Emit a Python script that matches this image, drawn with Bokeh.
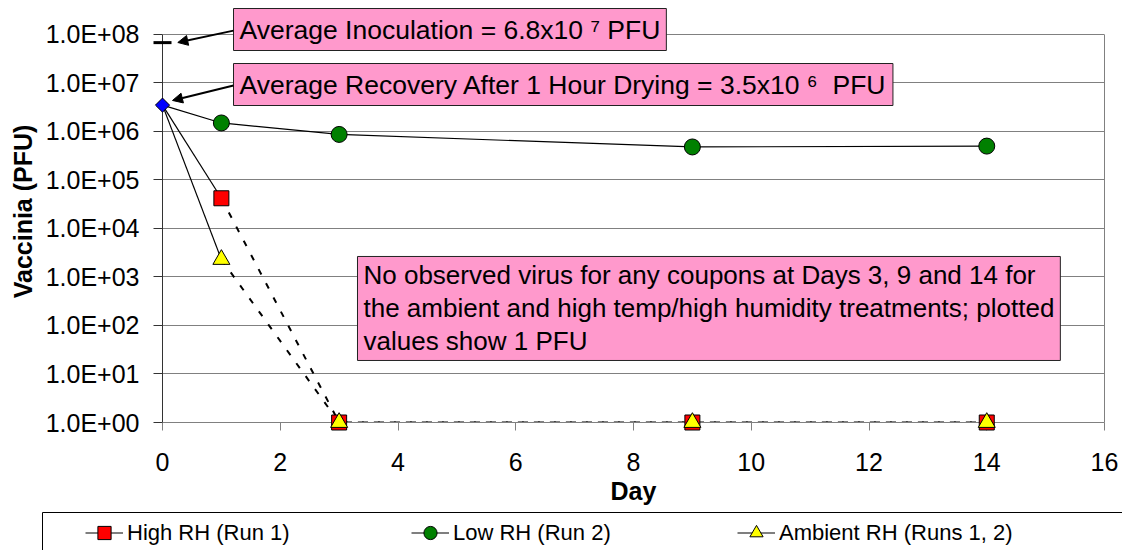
import math
from bokeh.plotting import figure
from bokeh.models import (Range1d, FixedTicker, Legend, LegendItem, Label,
                          Arrow, NormalHead, BoxAnnotation)
from bokeh.embed import file_html
from bokeh.resources import INLINE

# ---------------- data ----------------
days = [0, 1, 3, 9, 14]
high_rh = [3.5e6, 4.2e4, 1, 1, 1]
low_rh = [3.5e6, 1.5e6, 8.7e5, 4.8e5, 5.0e5]
ambient_rh = [3.5e6, 2.3e3, 1, 1, 1]
inoc_day = [0]
inoc_pfu = [6.8e7]
recov_day = [0]
recov_pfu = [3.5e6]

x_ticks = [0, 2, 4, 6, 8, 10, 12, 14, 16]
y_ticks = [10 ** k for k in range(0, 9)]
y_tick_labels = ["1.0E+00", "1.0E+01", "1.0E+02", "1.0E+03", "1.0E+04",
                 "1.0E+05", "1.0E+06", "1.0E+07", "1.0E+08"]
series_labels = ["High RH (Run 1)", "Low RH (Run 2)", "Ambient RH (Runs 1, 2)"]

NB = "\u00a0"
note_inoc = "Average Inoculation = 6.8x10" + NB + "\u2077" + NB + "PFU"
note_recov = "Average Recovery After 1 Hour Drying = 3.5x10" + NB + "\u2076" + NB + NB + "PFU"
note_none = ("No observed virus for any coupons at Days 3, 9 and 14 for\n"
             "the ambient and high temp/high humidity treatments; plotted\n"
             "values show 1 PFU")

FONT = "Liberation Sans"
PINK = "#FF99CC"
RED, GREEN, YELLOW, BLUE = "#FF0000", "#008000", "#FFFF00", "#0000FF"
GRID = "#808080"

# frame spans the whole top of the canvas so the upper note box is not clipped;
# the decade scale is the same as a 1 .. 1e8 axis whose top sits 34 px lower
p = figure(width=1122, height=510, y_axis_type="log",
           x_range=Range1d(0, 16), y_range=Range1d(1, 10 ** 8.701),
           output_backend="svg", toolbar_location=None,
           min_border_left=162, min_border_right=18,
           min_border_top=0, min_border_bottom=88)
p.title.visible = False
p.outline_line_color = None
p.background_fill_color = "white"
p.border_fill_color = "white"

# x axis
xa = p.xaxis[0]
xa.ticker = FixedTicker(ticks=x_ticks)
xa.axis_line_color = GRID
xa.major_tick_line_color = GRID
xa.major_tick_in = 0
xa.major_tick_out = 8
xa.minor_tick_line_color = None
xa.major_label_text_font = FONT
xa.major_label_text_font_size = "25px"
xa.major_label_text_color = "black"
xa.major_label_standoff = 22
xa.axis_label = "Day"
xa.axis_label_text_font = FONT
xa.axis_label_text_font_size = "25px"
xa.axis_label_text_font_style = "bold"
xa.axis_label_text_color = "black"
xa.axis_label_standoff = 3

# y axis
ya = p.yaxis[0]
ya.ticker = FixedTicker(ticks=y_ticks)
ya.major_label_overrides = dict(zip(y_ticks, y_tick_labels))
ya.axis_line_color = None
ya.major_tick_line_color = "#333333"
ya.major_tick_in = 0
ya.major_tick_out = 9
ya.minor_tick_line_color = None
ya.major_label_text_font = FONT
ya.major_label_text_font_size = "25px"
ya.major_label_text_color = "black"
ya.major_label_standoff = 14
ya.axis_label = "Vaccinia (PFU)"
ya.axis_label_text_font = FONT
ya.axis_label_text_font_size = "25px"
ya.axis_label_text_font_style = "bold"
ya.axis_label_text_color = "black"
ya.axis_label_standoff = 6

p.xgrid.visible = False
p.ygrid.grid_line_color = GRID
p.ygrid.grid_line_width = 1

# plot-area borders: value axis at day 0 and right edge at the last day tick
p.segment(x0=[x_ticks[0]], y0=[y_ticks[0]], x1=[x_ticks[0]], y1=[y_ticks[-1]],
          line_color="#333333", line_width=1, level="guide")
p.segment(x0=[x_ticks[-1]], y0=[y_ticks[0]], x1=[x_ticks[-1]], y1=[y_ticks[-1]],
          line_color=GRID, line_width=1, level="guide")

# ---------------- lines ----------------
DASH = "6 10"
p.line(days[1:], high_rh[1:], line_color="black", line_width=2, line_dash=DASH)
p.line(days[1:], ambient_rh[1:], line_color="black", line_width=2, line_dash=DASH)
p.line(days[:2], high_rh[:2], line_color="black", line_width=1.2)
p.line(days[:2], ambient_rh[:2], line_color="black", line_width=1.2)
p.line(days, low_rh, line_color="black", line_width=1.2)

# ---------------- markers ----------------
p.scatter(days[1:], high_rh[1:], marker="square", size=15,
          fill_color=RED, line_color="black", line_width=1, level="overlay")
p.scatter(days[1:], low_rh[1:], marker="circle", size=16,
          fill_color=GREEN, line_color="black", line_width=1, level="overlay")
p.scatter(days[1:], ambient_rh[1:], marker="triangle", size=17,
          fill_color=YELLOW, line_color="black", line_width=1, level="overlay")
p.scatter(recov_day, recov_pfu, marker="square", angle=math.pi / 4, size=10,
          fill_color=BLUE, line_color="black", line_width=1, level="overlay")
p.scatter(inoc_day, inoc_pfu, marker="dash", size=18, line_color="black",
          line_width=3, level="overlay")

# ---------------- annotations ----------------
def lg(py):
    return 10 ** py

box_style = dict(text_font=FONT, text_color="black",
                 text_align="left", text_baseline="top",
                 background_fill_color=PINK, border_line_color="#222222",
                 border_line_width=1)

p.add_layout(Label(x=1.206, y=lg(8.536), text=note_inoc, padding=(6, 6),
                   text_font_size="26.5px", **box_style))
p.add_layout(Label(x=1.206, y=lg(7.402), text=note_recov, padding=(6, 6),
                   text_font_size="26.5px", **box_style))
p.add_layout(Label(x=3.312, y=lg(3.423), text=note_none, padding=(6, 4),
                   text_line_height=1.1, text_font_size="26px", **box_style))

p.add_layout(Arrow(end=NormalHead(size=10, fill_color="black", line_color="black"),
                   x_start=1.206, y_start=lg(8.08), x_end=0.26, y_end=lg(7.835),
                   line_color="black", line_width=2))
p.add_layout(Arrow(end=NormalHead(size=10, fill_color="black", line_color="black"),
                   x_start=1.206, y_start=lg(6.948), x_end=0.17, y_end=lg(6.64),
                   line_color="black", line_width=2))

# ---------------- legend strip (second root, below the chart) ----------------
pl = figure(width=1122, height=40, x_range=Range1d(-3, -2), y_range=Range1d(-3, -2),
            output_backend="svg", toolbar_location=None,
            x_axis_location=None, y_axis_location=None,
            min_border_left=0, min_border_right=0, min_border_top=0, min_border_bottom=0)
pl.title.visible = False
pl.xgrid.visible = False
pl.ygrid.visible = False
pl.outline_line_color = None
pl.border_fill_color = "white"
pl.background_fill_color = "white"

# legend frame: left and top edges visible, the rest runs off the page
pl.add_layout(BoxAnnotation(left=-3 + 42 / 1122, right=-1, top=-2 - 2 / 40, bottom=-4,
                            fill_color="white", fill_alpha=1,
                            line_color="black", line_width=1, line_alpha=1))

ks = dict(line_color="black", line_width=1.2)
l1 = pl.line(days, high_rh, **ks)
m1 = pl.scatter(days, high_rh, marker="square", size=15, fill_color=RED, line_color="black")
l2 = pl.line(days, low_rh, **ks)
m2 = pl.scatter(days, low_rh, marker="circle", size=16, fill_color=GREEN, line_color="black")
l3 = pl.line(days, ambient_rh, **ks)
m3 = pl.scatter(days, ambient_rh, marker="triangle", size=17, fill_color=YELLOW, line_color="black")

legend = Legend(items=[
    LegendItem(label=series_labels[0], renderers=[l1, m1]),
    LegendItem(label=series_labels[1], renderers=[l2, m2]),
    LegendItem(label=series_labels[2], renderers=[l3, m3]),
], orientation="horizontal", location=(85, 1),
    border_line_color=None, background_fill_alpha=0,
    padding=0, spacing=0, margin=0,
    glyph_width=38, glyph_height=33, label_width=284, label_standoff=4,
    label_height=20,
    label_text_font=FONT, label_text_font_size="22px", label_text_color="black")
pl.add_layout(legend)

open("out.html", "w").write(file_html([p, pl], INLINE))
